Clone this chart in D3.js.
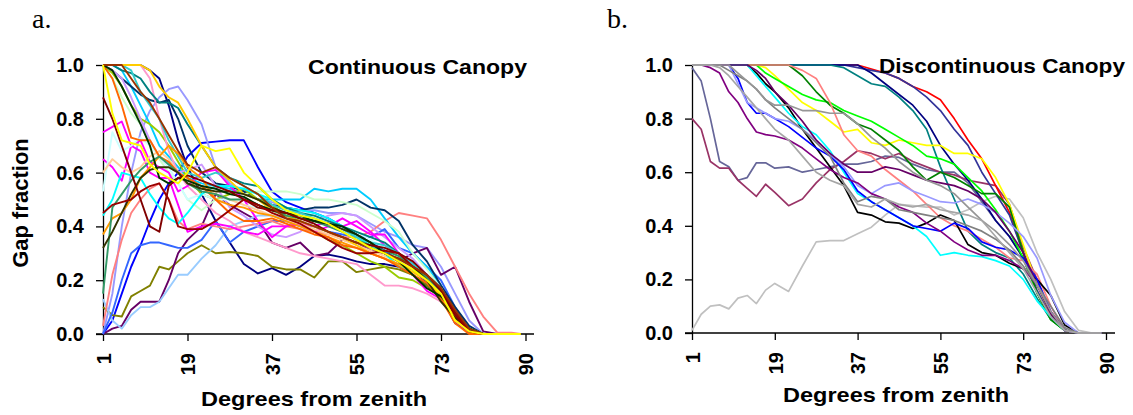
<!DOCTYPE html>
<html>
<head>
<meta charset="utf-8">
<script src="https://cdn.jsdelivr.net/npm/d3@7"></script>
<style>
  body { margin: 0; background: #fff; }
  svg { display: block; }
  .tick text { font-family: "Liberation Sans", Arial, sans-serif; font-weight: bold; font-size: 20px; fill: #000; }
</style>
</head>
<body>
<div id="chart"></div>
<script>
// degrees from zenith at which the curves were read
const degrees = [1,3,5,7,9,11,13,15,17,19,22,25,28,31,34,37,40,43,46,49,52,55,58,61,64,67,70,73,76,79,82,85,88,90];

const xTickPos = [1, 19, 37, 55, 73, 91];
const xTickLabels = ["1", "19", "37", "55", "73", "90"];
const yTicks = [0, 0.2, 0.4, 0.6, 0.8, 1.0];

// a. continuous canopy
const contColors = ["#000080","#0000FF","#9999FF","#808000","#660066","#99CCFF","#3366FF","#FF8080",
  "#00CCFF","#003366","#CCFFCC","#99CC00","#FF99CC","#CC99FF","#FF00FF","#FF00FF","#CCFFFF","#FFCC99",
  "#00FFFF","#008080","#33CCCC","#FFCC00","#FF9900","#FF6600","#339966","#333300","#003300","#800000",
  "#990000","#993300","#FFFF00"];
const contValues = [
  [1,1,1,1,1,0.98,0.95,0.85,0.72,0.62, 0.52,0.42,0.34,0.26,0.225,0.245,0.22,0.25,0.29,0.295, 0.285,0.27,0.26,0.26,0.25,0.22,0.18,0.13,0.05,0.01, 0,0,0,0],
  [0,0.05,0.15,0.25,0.33,0.42,0.5,0.56,0.6,0.66, 0.71,0.715,0.72,0.72,0.62,0.53,0.49,0.47,0.45,0.43, 0.4,0.37,0.34,0.31,0.28,0.24,0.19,0.14,0.04,0.01, 0,0,0,0],
  [0,0.15,0.4,0.6,0.75,0.83,0.88,0.91,0.92,0.87, 0.78,0.62,0.56,0.53,0.5,0.49,0.47,0.46,0.46,0.45, 0.45,0.44,0.41,0.38,0.36,0.33,0.32,0.25,0.15,0.05, 0,0,0,0],
  [0.1,0.07,0.065,0.14,0.16,0.18,0.25,0.24,0.27,0.3, 0.33,0.3,0.305,0.3,0.29,0.25,0.24,0.24,0.21,0.27, 0.27,0.23,0.24,0.25,0.24,0.22,0.18,0.14,0.07,0.02, 0,0,0,0],
  [0,0.02,0.03,0.09,0.12,0.12,0.12,0.2,0.3,0.35, 0.4,0.52,0.48,0.45,0.42,0.34,0.32,0.34,0.29,0.3, 0.35,0.34,0.31,0.3,0.27,0.3,0.32,0.22,0.25,0.12, 0.01,0,0,0],
  [0.13,0.05,0.02,0.07,0.1,0.1,0.12,0.17,0.22,0.22, 0.28,0.33,0.4,0.42,0.44,0.44,0.43,0.42,0.4,0.38, 0.36,0.34,0.32,0.3,0.28,0.25,0.21,0.16,0.08,0.02, 0,0,0,0],
  [0,0.08,0.2,0.3,0.33,0.34,0.34,0.33,0.32,0.32, 0.35,0.42,0.34,0.38,0.4,0.42,0.42,0.4,0.4,0.38, 0.37,0.36,0.36,0.39,0.32,0.3,0.25,0.2,0.1,0.02, 0,0,0,0],
  [0.03,0.22,0.35,0.45,0.5,0.54,0.56,0.5,0.42,0.39, 0.41,0.4,0.39,0.4,0.41,0.42,0.4,0.39,0.38,0.37, 0.36,0.36,0.38,0.42,0.45,0.44,0.43,0.35,0.25,0.15, 0.065,0.005,0.005,0],
  [1,1,0.98,0.92,0.85,0.78,0.7,0.66,0.62,0.58, 0.56,0.55,0.54,0.52,0.5,0.5,0.5,0.5,0.54,0.53, 0.54,0.54,0.5,0.43,0.36,0.3,0.25,0.18,0.08,0.02, 0,0,0,0],
  [1,0.98,0.95,0.92,0.89,0.87,0.86,0.87,0.8,0.7, 0.6,0.56,0.55,0.53,0.5,0.48,0.47,0.46,0.47,0.47, 0.48,0.5,0.47,0.46,0.42,0.33,0.27,0.18,0.1,0.03, 0,0,0,0],
  [1,0.95,0.88,0.82,0.78,0.72,0.65,0.6,0.56,0.5, 0.46,0.5,0.52,0.52,0.53,0.53,0.53,0.52,0.5,0.5, 0.49,0.48,0.45,0.42,0.38,0.3,0.24,0.17,0.08,0.02, 0,0,0,0],
  [1,0.97,0.92,0.85,0.8,0.78,0.75,0.7,0.64,0.58, 0.52,0.5,0.52,0.54,0.5,0.48,0.44,0.42,0.38,0.35, 0.33,0.3,0.27,0.25,0.21,0.2,0.17,0.14,0.07,0.02, 0,0,0,0],
  [1,1,1,1,1,0.95,0.8,0.68,0.6,0.55, 0.5,0.45,0.42,0.38,0.36,0.34,0.32,0.3,0.29,0.28, 0.27,0.26,0.22,0.18,0.18,0.17,0.15,0.12,0.06,0.01, 0,0,0,0],
  [1,0.98,0.95,0.88,0.8,0.72,0.66,0.62,0.6,0.61, 0.63,0.55,0.47,0.44,0.4,0.37,0.36,0.38,0.42,0.44, 0.45,0.44,0.4,0.36,0.32,0.28,0.22,0.17,0.08,0.02, 0,0,0,0],
  [0.75,0.77,0.79,0.7,0.72,0.64,0.62,0.6,0.53,0.55, 0.6,0.61,0.55,0.5,0.42,0.36,0.4,0.41,0.4,0.42, 0.4,0.42,0.38,0.33,0.3,0.26,0.22,0.15,0.05,0.01, 0,0,0,0],
  [0.65,0.62,0.57,0.7,0.68,0.6,0.58,0.58,0.48,0.38, 0.4,0.41,0.4,0.38,0.37,0.4,0.4,0.41,0.38,0.4, 0.43,0.4,0.37,0.37,0.3,0.22,0.16,0.13,0.05,0.01, 0,0,0,0],
  [0.53,0.75,0.68,0.7,0.73,0.7,0.66,0.62,0.56,0.5, 0.52,0.5,0.5,0.48,0.47,0.46,0.45,0.44,0.43,0.42, 0.4,0.38,0.35,0.32,0.28,0.25,0.2,0.15,0.07,0.01, 0,0,0,0],
  [0.6,0.65,0.62,0.6,0.62,0.66,0.68,0.65,0.6,0.57, 0.55,0.52,0.5,0.48,0.46,0.44,0.42,0.41,0.39,0.37, 0.35,0.33,0.31,0.29,0.27,0.24,0.2,0.15,0.07,0.01, 0,0,0,0],
  [0.44,0.5,0.6,0.59,0.58,0.52,0.47,0.43,0.41,0.45, 0.52,0.55,0.55,0.54,0.52,0.5,0.47,0.46,0.45,0.43, 0.4,0.36,0.33,0.3,0.25,0.24,0.2,0.16,0.07,0.01, 0,0,0,0],
  [1,1,0.98,0.97,0.95,0.9,0.86,0.86,0.84,0.78, 0.7,0.62,0.58,0.56,0.55,0.5,0.47,0.45,0.44,0.42, 0.4,0.38,0.36,0.34,0.3,0.26,0.21,0.15,0.07,0.01, 0,0,0,0],
  [1,1,1,0.98,0.9,0.85,0.8,0.72,0.66,0.6, 0.58,0.6,0.58,0.55,0.52,0.48,0.46,0.45,0.43,0.41, 0.39,0.36,0.34,0.33,0.3,0.26,0.22,0.17,0.08,0.02, 0,0,0,0],
  [1,1,1,1,1,0.98,0.92,0.88,0.86,0.8, 0.7,0.62,0.57,0.52,0.5,0.46,0.44,0.42,0.4,0.38, 0.36,0.33,0.3,0.28,0.26,0.23,0.2,0.14,0.06,0.01, 0,0,0,0],
  [0.37,0.43,0.45,0.5,0.58,0.62,0.66,0.7,0.67,0.62, 0.58,0.5,0.48,0.47,0.45,0.44,0.42,0.4,0.38,0.36, 0.34,0.32,0.3,0.28,0.26,0.24,0.2,0.15,0.06,0.01, 0,0,0,0],
  [1,0.95,0.85,0.73,0.72,0.72,0.66,0.64,0.6,0.58, 0.55,0.5,0.45,0.42,0.42,0.43,0.41,0.39,0.37,0.36, 0.33,0.32,0.3,0.28,0.25,0.22,0.19,0.13,0.04,0, 0,0,0,0],
  [0.15,0.47,0.52,0.57,0.61,0.64,0.66,0.63,0.6,0.56, 0.53,0.52,0.5,0.5,0.48,0.46,0.44,0.43,0.42,0.4, 0.38,0.35,0.33,0.31,0.29,0.25,0.21,0.16,0.08,0.02, 0,0,0,0],
  [0.32,0.38,0.45,0.52,0.58,0.61,0.62,0.62,0.6,0.56, 0.54,0.53,0.53,0.52,0.5,0.47,0.45,0.43,0.42,0.41, 0.39,0.37,0.34,0.3,0.28,0.25,0.2,0.12,0.06,0.02, 0,0,0,0],
  [1,0.98,0.92,0.85,0.78,0.7,0.58,0.56,0.58,0.57, 0.55,0.54,0.52,0.51,0.48,0.46,0.45,0.44,0.42,0.41, 0.4,0.37,0.34,0.3,0.27,0.22,0.17,0.14,0.08,0.02, 0,0,0,0],
  [0.88,0.8,0.7,0.6,0.5,0.4,0.38,0.55,0.58,0.59, 0.57,0.55,0.53,0.5,0.47,0.46,0.45,0.43,0.41,0.38, 0.36,0.34,0.33,0.32,0.3,0.27,0.22,0.16,0.07,0.01, 0,0,0,0],
  [0.45,0.48,0.49,0.5,0.53,0.55,0.56,0.5,0.4,0.39, 0.39,0.42,0.46,0.5,0.48,0.45,0.43,0.41,0.38,0.35, 0.32,0.3,0.3,0.31,0.3,0.25,0.22,0.17,0.08,0.01, 0,0,0,0],
  [1,1,1,0.95,0.9,0.86,0.8,0.74,0.68,0.63, 0.6,0.62,0.58,0.55,0.52,0.47,0.43,0.42,0.4,0.38, 0.36,0.34,0.32,0.3,0.28,0.25,0.22,0.17,0.09,0.02, 0,0,0,0],
  [1,0.82,0.72,0.71,0.7,0.63,0.6,0.58,0.56,0.6, 0.7,0.68,0.69,0.6,0.55,0.5,0.46,0.44,0.43,0.41, 0.38,0.35,0.32,0.3,0.27,0.24,0.2,0.15,0.05,0.01, 0,0,0,0]
];

// b. discontinuous canopy
const discColors = ["#C0C0C0","#666699","#993366","#FF0000","#333399","#000080","#008080","#FFFF00",
  "#00FF00","#008000","#FF8080","#000000","#00FFFF","#0000FF","#9999FF","#800080","#660066",
  "#808080","#969696","#A6A6A6"];
const discValues = [
  [0.01,0.07,0.1,0.105,0.09,0.13,0.14,0.11,0.16,0.185, 0.155,0.25,0.34,0.345,0.345,0.37,0.395,0.44,0.48,0.475, 0.47,0.47,0.44,0.46,0.49,0.51,0.5,0.43,0.3,0.2, 0.08,0.01,0,0],
  [0.99,0.94,0.8,0.64,0.62,0.57,0.58,0.635,0.635,0.615, 0.62,0.6,0.61,0.62,0.63,0.63,0.64,0.66,0.655,0.63, 0.61,0.6,0.6,0.56,0.49,0.42,0.36,0.28,0.15,0.06, 0.01,0,0,0],
  [0.8,0.76,0.64,0.615,0.615,0.57,0.54,0.51,0.555,0.525, 0.475,0.5,0.56,0.61,0.64,0.68,0.67,0.65,0.67,0.64, 0.62,0.6,0.59,0.57,0.56,0.55,0.48,0.32,0.2,0.07, 0.01,0,0,0],
  [1,1,1,1,1,1,1,1,1,1, 1,1,1,1,1,1,0.985,0.97,0.95,0.92, 0.9,0.87,0.8,0.72,0.65,0.55,0.45,0.3,0.15,0.06, 0.01,0,0,0],
  [1,1,1,1,1,1,1,1,1,1, 1,1,1,1,1,0.99,0.98,0.97,0.95,0.92, 0.88,0.83,0.76,0.7,0.6,0.52,0.44,0.3,0.16,0.06, 0.01,0,0,0],
  [1,1,1,1,1,1,1,1,1,1, 1,1,1,1,1,1,0.97,0.93,0.89,0.85, 0.79,0.7,0.63,0.57,0.5,0.42,0.36,0.28,0.15,0.06, 0.01,0,0,0],
  [1,1,1,1,1,1,1,1,1,1, 1,1,1,1,0.99,0.96,0.93,0.92,0.88,0.83, 0.76,0.62,0.5,0.38,0.33,0.3,0.28,0.22,0.13,0.05, 0.01,0,0,0],
  [1,1,1,1,1,1,1,1,0.99,0.96, 0.91,0.86,0.83,0.79,0.75,0.76,0.71,0.7,0.72,0.71, 0.7,0.7,0.67,0.67,0.65,0.58,0.48,0.33,0.18,0.07, 0.01,0,0,0],
  [1,1,1,1,1,1,1,1,0.97,0.95, 0.92,0.89,0.87,0.86,0.83,0.81,0.79,0.76,0.73,0.7, 0.66,0.65,0.63,0.58,0.53,0.46,0.38,0.28,0.15,0.05, 0.01,0,0,0],
  [1,1,1,1,1,1,1,1,1,1, 1,0.96,0.9,0.85,0.82,0.78,0.76,0.72,0.68,0.62, 0.57,0.6,0.58,0.55,0.52,0.52,0.47,0.3,0.15,0.05, 0.01,0,0,0],
  [1,1,1,1,1,1,1,1,1,1, 1,0.98,0.95,0.86,0.74,0.68,0.66,0.61,0.57,0.53, 0.48,0.43,0.4,0.38,0.35,0.32,0.28,0.27,0.22,0.1, 0.01,0,0,0],
  [1,1,1,1,1,1,1,0.97,0.93,0.9, 0.84,0.76,0.69,0.62,0.55,0.45,0.44,0.415,0.41,0.39, 0.41,0.44,0.42,0.33,0.3,0.29,0.26,0.24,0.2,0.14, 0.03,0,0,0],
  [1,1,1,1,1,1,1,0.96,0.92,0.88, 0.82,0.77,0.74,0.68,0.6,0.52,0.49,0.46,0.43,0.4, 0.36,0.29,0.3,0.29,0.285,0.27,0.25,0.2,0.12,0.06, 0.01,0,0,0],
  [1,1,1,1,1,0.95,0.86,0.82,0.82,0.8, 0.77,0.73,0.69,0.66,0.61,0.53,0.49,0.46,0.43,0.4, 0.39,0.38,0.41,0.39,0.34,0.32,0.31,0.28,0.2,0.08, 0.01,0,0,0],
  [1,1,1,1,1,0.93,0.86,0.84,0.82,0.8, 0.79,0.76,0.72,0.67,0.62,0.55,0.52,0.55,0.56,0.53, 0.51,0.49,0.485,0.5,0.48,0.45,0.41,0.36,0.28,0.14, 0.04,0,0,0],
  [1,1,0.99,0.97,0.9,0.86,0.8,0.75,0.74,0.735, 0.72,0.69,0.65,0.61,0.58,0.56,0.52,0.5,0.47,0.45, 0.41,0.38,0.34,0.31,0.29,0.29,0.27,0.24,0.18,0.08, 0.01,0,0,0],
  [1,1,1,1,1,1,1,0.98,0.95,0.9, 0.85,0.79,0.72,0.67,0.63,0.6,0.6,0.62,0.61,0.59, 0.57,0.56,0.55,0.53,0.5,0.45,0.38,0.3,0.18,0.07, 0.01,0,0,0],
  [1,1,1,1,0.98,0.96,0.94,0.91,0.87,0.84, 0.8,0.76,0.71,0.66,0.56,0.49,0.51,0.5,0.46,0.45, 0.44,0.43,0.42,0.4,0.38,0.35,0.31,0.25,0.18,0.1, 0.02,0,0,0],
  [1,1,1,1,1,0.97,0.94,0.91,0.87,0.85, 0.85,0.83,0.83,0.82,0.82,0.78,0.73,0.69,0.64,0.6, 0.57,0.55,0.52,0.47,0.42,0.38,0.33,0.27,0.18,0.08, 0.01,0,0,0],
  [1,1,1,0.99,0.96,0.92,0.88,0.84,0.8,0.76, 0.72,0.66,0.6,0.57,0.55,0.48,0.47,0.5,0.48,0.47, 0.48,0.46,0.45,0.44,0.42,0.36,0.3,0.24,0.15,0.06, 0.01,0,0,0]
];

const svg = d3.select("#chart")
  .append("svg")
    .attr("width", 1133)
    .attr("height", 415);

const sans = "'Liberation Sans', Arial, sans-serif";

function drawPanel(p) {
  const x = d3.scaleLinear().domain([1, 91]).range([p.left, p.right]);
  const y = d3.scaleLinear().domain([0, 1]).range([p.bottom, p.top]);

  // Y axis
  svg.append("g")
    .attr("transform", `translate(${p.left},0)`)
    .call(d3.axisLeft(y).tickValues(yTicks).tickFormat(d3.format(".1f"))
      .tickSize(7).tickPadding(12).tickSizeOuter(0))
    .call(g => g.select(".domain").attr("stroke", "#000").attr("stroke-width", 1.3))
    .call(g => g.selectAll(".tick line").attr("stroke", "#000").attr("stroke-width", 1.3));

  // X axis
  const xa = svg.append("g")
    .attr("transform", `translate(0,${p.bottom})`)
    .call(d3.axisBottom(x).tickValues(xTickPos).tickFormat((d, i) => xTickLabels[i])
      .tickSize(7).tickSizeOuter(0));
  xa.select(".domain").remove();
  xa.append("line")
    .attr("x1", p.left - 7).attr("x2", p.axisEnd)
    .attr("stroke", "#000").attr("stroke-width", 1.3);
  xa.selectAll(".tick line").attr("stroke", "#000").attr("stroke-width", 1.3);
  xa.selectAll(".tick text")
    .attr("transform", "rotate(-90)")
    .attr("text-anchor", "end")
    .attr("x", -19)
    .attr("y", 0)
    .attr("dy", "0.36em");

  // curves
  const line = d3.line()
    .x((d, i) => x(degrees[i]))
    .y(d => y(d));
  svg.append("g")
    .attr("fill", "none")
    .attr("stroke-width", p.lineWidth)
    .attr("stroke-linejoin", "round")
    .selectAll("path")
    .data(p.values)
    .join("path")
      .attr("stroke", (d, i) => p.colors[i])
      .attr("d", line);

  // panel title
  svg.append("text")
    .attr("x", p.titleX).attr("y", p.titleY)
    .attr("textLength", p.titleLen)
    .attr("lengthAdjust", "spacingAndGlyphs")
    .style("font-family", sans)
    .style("font-weight", "bold")
    .style("font-size", "21px")
    .text(p.title);

  // x axis title
  svg.append("text")
    .attr("x", p.xTitleX).attr("y", p.xTitleY)
    .attr("textLength", 226)
    .attr("lengthAdjust", "spacingAndGlyphs")
    .style("font-family", sans)
    .style("font-weight", "bold")
    .style("font-size", "21px")
    .text("Degrees from zenith");

  // panel letter
  svg.append("text")
    .attr("x", p.letterX).attr("y", 28)
    .style("font-family", "'Liberation Serif', 'Times New Roman', serif")
    .style("font-size", "28px")
    .text(p.letter);
}

drawPanel({
  left: 103, right: 525.5, top: 65, bottom: 334, axisEnd: 534, lineWidth: 1.9,
  values: contValues, colors: contColors,
  title: "Continuous Canopy", titleX: 308, titleY: 74, titleLen: 219,
  xTitleX: 201, xTitleY: 406, letter: "a.", letterX: 32
});

drawPanel({
  left: 692, right: 1106, top: 65, bottom: 333, axisEnd: 1115, lineWidth: 1.7,
  values: discValues, colors: discColors,
  title: "Discontinuous Canopy", titleX: 879, titleY: 73, titleLen: 246,
  xTitleX: 783, xTitleY: 402, letter: "b.", letterX: 607
});

// y axis title (only on panel a)
svg.append("text")
  .attr("transform", "translate(28,203) rotate(-90)")
  .attr("text-anchor", "middle")
  .style("font-family", sans)
  .style("font-weight", "bold")
  .style("font-size", "22px")
  .text("Gap fraction");
</script>
</body>
</html>
